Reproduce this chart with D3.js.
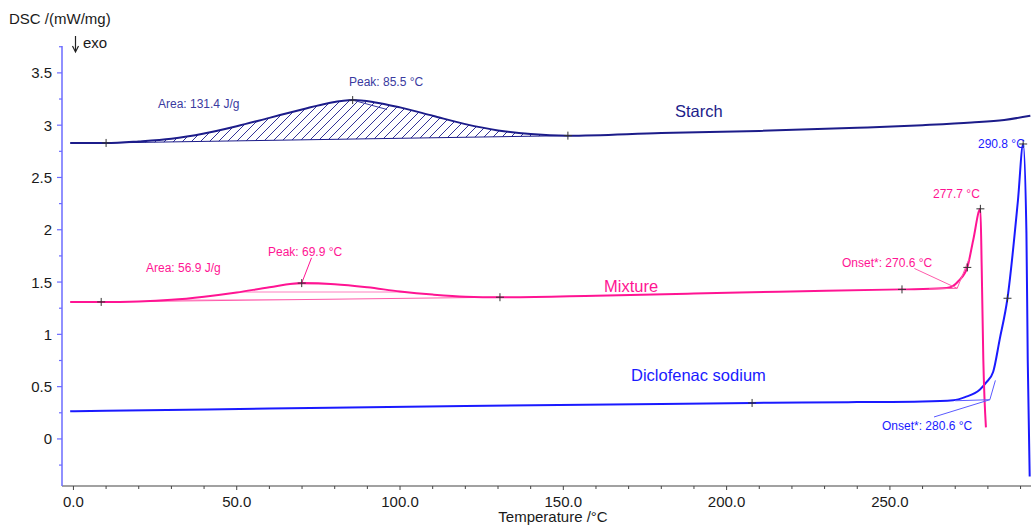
<!DOCTYPE html>
<html><head><meta charset="utf-8">
<script src="https://cdn.jsdelivr.net/npm/d3@7"></script>
<style>
html,body{margin:0;padding:0;background:#fff;}
svg{display:block;font-family:"Liberation Sans",Arial,sans-serif;}
</style></head>
<body>
<svg id="chart" width="1031" height="527"></svg>
<script>
// ---------- data ----------
const starchT = [-1, 10, 20, 30, 40, 50, 60, 70, 78, 85.5, 92, 100, 110, 120, 130, 140, 151.4, 180, 210, 240, 260, 275, 285, 293];
const starchV = [2.83, 2.83, 2.845, 2.87, 2.92, 2.99, 3.07, 3.15, 3.21, 3.24, 3.22, 3.17, 3.09, 3.01, 2.95, 2.915, 2.90, 2.925, 2.945, 2.975, 3.0, 3.025, 3.05, 3.09];

const mixT = [-1, 8.5, 20, 30, 40, 50, 60, 69.9, 80, 90, 100, 110, 120, 130.6, 160, 190, 216, 253.7, 266, 268.5, 271, 273.7, 275.5, 277.7, 278.1, 278.6, 279.4];
const mixV = [1.31, 1.31, 1.315, 1.33, 1.36, 1.40, 1.45, 1.49, 1.48, 1.45, 1.41, 1.38, 1.36, 1.355, 1.37, 1.39, 1.408, 1.43, 1.44, 1.45, 1.51, 1.64, 1.90, 2.20, 1.65, 0.76, 0.11];

const dicT = [-1, 10, 60, 120, 180, 207.8, 240, 260, 269.4, 273, 277.5, 279.5, 281.6, 283.6, 286.0, 289.2, 290.8, 291.8, 292.2, 292.8];
const dicV = [0.265, 0.27, 0.29, 0.315, 0.335, 0.344, 0.352, 0.358, 0.37, 0.40, 0.47, 0.54, 0.64, 0.95, 1.345, 2.28, 2.82, 1.97, 0.76, -0.36];

const starchMarks = [[10, 2.83], [85.5, 3.24], [151.4, 2.90]];
const mixMarks = [[8.5, 1.31], [69.9, 1.49], [130.6, 1.355], [253.7, 1.43], [273.7, 1.64], [277.7, 2.20]];
const dicMarks = [[207.8, 0.344], [286.0, 1.345], [290.8, 2.82]];

const starchBase = [[10, 2.83], [151.4, 2.90]];
const mixBase = [[8.5, 1.31], [130.6, 1.355]];
const mixOnset = {base: [[262, 1.435], [270.6, 1.44]], tangent: [[270.6, 1.44], [274.2, 1.72]], label: [257.5, 1.63]};
const dicOnset = {base: [[270, 0.365], [280.6, 0.375]], tangent: [[280.6, 0.375], [282.3, 0.56]], label: [263.5, 0.21]};

const xTicks = [0, 50, 100, 150, 200, 250];
const xMinor = d3.range(0, 291, 10);
const yTicks = [0, 0.5, 1, 1.5, 2, 2.5, 3, 3.5];
const yMinor = d3.range(-0.25, 3.76, 0.25);

const colStarch = "#1c1c8a", colStarchTxt = "#3a3aa0";
const colMix = "#ff1493";
const colDic = "#1a1aff";

// ---------- chart ----------
const svg = d3.select("#chart");
const x = d3.scaleLinear().domain([-3.5, 293.2]).range([62, 1031]);
const y = d3.scaleLinear().domain([-0.45, 3.757]).range([486, 46]);

// axes
const gx = svg.append("g").attr("transform", "translate(0,486)");
gx.append("line").attr("x1", 62).attr("x2", 1031).attr("stroke", "#444").attr("stroke-width", 1.2);
gx.selectAll("line.mn").data(xMinor).join("line").attr("class", "mn")
  .attr("x1", d => x(d)).attr("x2", d => x(d)).attr("y1", 0)
  .attr("y2", d => xTicks.includes(d) ? 4 : 3).attr("stroke", "#444");
gx.selectAll("text").data(xTicks).join("text")
  .attr("x", d => x(d)).attr("y", 21).attr("text-anchor", "middle")
  .attr("font-size", 15).attr("fill", "#1a1a1a").text(d3.format(".1f"));
svg.append("text").attr("x", 553).attr("y", 522).attr("text-anchor", "middle")
  .attr("font-size", 15).attr("fill", "#1a1a1a").text("Temperature /°C");

const gy = svg.append("g").attr("transform", "translate(62,0)");
gy.append("line").attr("y1", 46).attr("y2", 486).attr("stroke", "#6b6bff").attr("stroke-width", 1.5);
gy.selectAll("line.mn").data(yMinor).join("line").attr("class", "mn")
  .attr("y1", d => y(d)).attr("y2", d => y(d)).attr("x2", 0)
  .attr("x1", (d, i) => (i % 2 === 1) ? -5 : -3).attr("stroke", "#6b6bff").attr("stroke-width", 1.2);
gy.selectAll("text").data(yTicks).join("text")
  .attr("x", -10).attr("y", d => y(d) + 5.5).attr("text-anchor", "end")
  .attr("font-size", 15).attr("fill", "#1a1a1a").text(d => d3.format("")(d));
svg.append("text").attr("x", 9).attr("y", 24).attr("font-size", 15).attr("fill", "#1a1a1a").text("DSC /(mW/mg)");
svg.append("text").attr("x", 83).attr("y", 48).attr("font-size", 15).attr("fill", "#1a1a1a").text("exo");
svg.append("line").attr("x1", 75.5).attr("x2", 75.5).attr("y1", 36).attr("y2", 51).attr("stroke", "#222").attr("stroke-width", 1.2);
svg.append("path").attr("d", "M72.5,46 L75.5,52 L78.5,46").attr("fill", "none").attr("stroke", "#222").attr("stroke-width", 1.2);

// defs: hatch patterns
const defs = svg.append("defs");
const pat = defs.append("pattern").attr("id", "hatch").attr("patternUnits", "userSpaceOnUse")
  .attr("width", 9).attr("height", 9);
pat.append("path").attr("d", "M-1,1 L1,-1 M0,9 L9,0 M8,10 L10,8").attr("stroke", colStarch).attr("stroke-width", 0.9);
const pat2 = defs.append("pattern").attr("id", "hatch2").attr("patternUnits", "userSpaceOnUse")
  .attr("width", 40).attr("height", 8);
pat2.append("path").attr("d", "M0,4 L40,4").attr("stroke", "#ff7fc0").attr("stroke-width", 1);

const zip = (T, V) => T.map((t, i) => [t, V[i]]);
const line = d3.line().x(d => x(d[0])).y(d => y(d[1])).curve(d3.curveMonotoneX);
const straight = d3.line().x(d => x(d[0])).y(d => y(d[1]));

// starch area
const starchPts = zip(starchT, starchV);
const sb = d3.scaleLinear().domain(starchBase.map(d => d[0])).range(starchBase.map(d => d[1]));
const starchSeg = starchPts.filter(d => d[0] >= 10 && d[0] <= 151.4);
svg.append("path").datum(starchSeg)
  .attr("d", d3.area().x(d => x(d[0])).y0(d => y(sb(d[0]))).y1(d => y(d[1])).curve(d3.curveMonotoneX))
  .attr("fill", "url(#hatch)").attr("stroke", "none");
svg.append("path").datum(starchBase).attr("d", straight).attr("stroke", colStarch).attr("stroke-width", 1).attr("fill", "none");

// mixture area
const mixPts = zip(mixT, mixV);
const mb = d3.scaleLinear().domain(mixBase.map(d => d[0])).range(mixBase.map(d => d[1]));
const mixSeg = mixPts.filter(d => d[0] >= 8.5 && d[0] <= 130.6);
svg.append("path").datum(mixSeg)
  .attr("d", d3.area().x(d => x(d[0])).y0(d => y(mb(d[0]))).y1(d => y(d[1])).curve(d3.curveMonotoneX))
  .attr("fill", "url(#hatch2)").attr("stroke", "none");
svg.append("path").datum(mixBase).attr("d", straight).attr("stroke", "#ff5aaa").attr("stroke-width", 1).attr("fill", "none");

// curves
svg.append("path").datum(starchPts).attr("d", line).attr("fill", "none").attr("stroke", colStarch).attr("stroke-width", 2);
svg.append("path").datum(zip(dicT, dicV)).attr("d", line).attr("fill", "none").attr("stroke", colDic).attr("stroke-width", 2);
svg.append("path").datum(mixPts).attr("d", line).attr("fill", "none").attr("stroke", colMix).attr("stroke-width", 2);

// onset constructions
[[mixOnset, "#ff5aaa"], [dicOnset, "#5a5aff"]].forEach(([o, c]) => {
  svg.append("path").datum(o.base).attr("d", straight).attr("stroke", c).attr("stroke-width", 1).attr("fill", "none");
  svg.append("path").datum(o.tangent).attr("d", straight).attr("stroke", c).attr("stroke-width", 1).attr("fill", "none");
  svg.append("path").datum([o.label, o.base[1]]).attr("d", straight).attr("stroke", c).attr("stroke-width", 1).attr("fill", "none");
});

// leader lines for peaks
svg.append("path").datum([[96, 3.15], [85.5, 3.24]]).attr("d", straight).attr("stroke", colStarchTxt).attr("stroke-width", 1).attr("fill", "none");
svg.append("path").datum([[72.9, 1.732], [69.9, 1.49]]).attr("d", straight).attr("stroke", colMix).attr("stroke-width", 1).attr("fill", "none");

// markers
const cross = (g, pts) => g.selectAll(null).data(pts).join("path")
  .attr("d", d => `M${x(d[0]) - 4},${y(d[1])} h8 M${x(d[0])},${y(d[1]) - 4} v8`)
  .attr("stroke", "#333").attr("stroke-width", 1).attr("fill", "none");
const gm = svg.append("g");
cross(gm, starchMarks); cross(gm, mixMarks); cross(gm, dicMarks);

// texts
const txt = (s, px, py, c, fs, anchor) => svg.append("text").attr("x", px).attr("y", py)
  .attr("font-size", fs).attr("fill", c).attr("text-anchor", anchor || "start").text(s);
txt("Area: 131.4 J/g", 158, 108, colStarchTxt, 12);
txt("Peak: 85.5 °C", 349, 86, colStarchTxt, 12);
txt("Starch", 675, 117, colStarch, 16.5);
txt("Area: 56.9 J/g", 146, 272, colMix, 12);
txt("Peak: 69.9 °C", 268, 256, colMix, 12);
txt("Mixture", 604, 292, colMix, 16.5);
txt("Onset*: 270.6 °C", 842, 267, colMix, 12);
txt("277.7 °C", 933, 198, colMix, 12);
txt("Diclofenac sodium", 631, 381, colDic, 16.5);
txt("Onset*: 280.6 °C", 882, 430, colDic, 12);
txt("290.8 °C", 978, 148, colDic, 12);
</script>
</body></html>
